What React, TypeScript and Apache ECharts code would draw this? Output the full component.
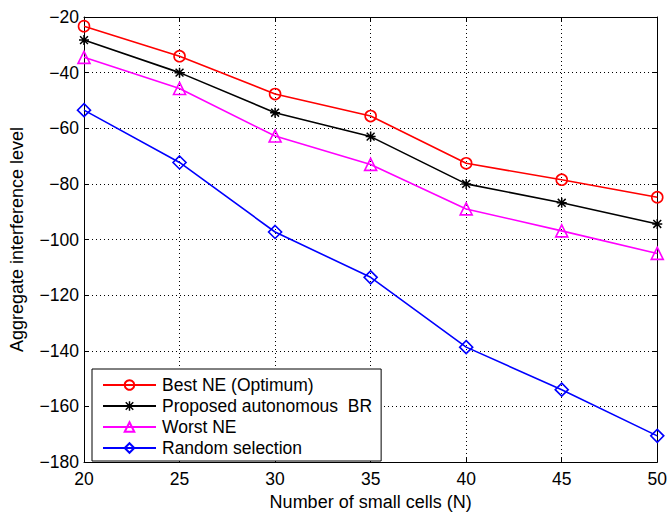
import React, { useEffect, useRef } from "react";
import * as echarts from "echarts";

const xValues = [20, 25, 30, 35, 40, 45, 50];
const bestNE = [-23.3, -34.1, -47.7, -55.6, -72.6, -78.5, -84.8];
const proposedBR = [-28.3, -40.0, -54.4, -63.0, -80.0, -86.8, -94.4];
const worstNE = [-34.5, -45.7, -62.8, -73.0, -89.0, -96.9, -105.0];
const randomSel = [-53.5, -72.3, -97.3, -113.6, -138.7, -154.0, -170.6];

const seriesNames = [
  "Best NE (Optimum)",
  "Proposed autonomous  BR",
  "Worst NE",
  "Random selection",
];

const xTitle = "Number of small cells (N)";
const yTitle = "Aggregate interference level";

const FONT = "'Liberation Sans', Arial, Helvetica, sans-serif";

const ASTERISK =
  "path://M8.5 0 L11.5 0 L11.5 20 L8.5 20 Z M0 8.5 L20 8.5 L20 11.5 L0 11.5 Z " +
  "M3.2 1.1 L18.9 16.8 L16.8 18.9 L1.1 3.2 Z M16.8 1.1 L18.9 3.2 L3.2 18.9 L1.1 16.8 Z";

export default function App() {
  const ref = useRef<HTMLDivElement>(null);

  useEffect(() => {
    document.body.style.margin = "0";
    if (!ref.current) return;
    const chart = echarts.init(ref.current, null, { renderer: "svg" });

    const mk = (arr: number[]) => arr.map((v, i) => [xValues[i], v]);
    const minus = (v: number) => String(v).replace("-", "\u2212");

    const gridLine = { show: true, lineStyle: { color: "#000", type: [1, 3], width: 1 } };

    const lineSeries = (
      name: string,
      data: number[],
      color: string,
      symbol: string,
      size: number,
      filled: boolean
    ) => ({
      name,
      type: "line",
      data: mk(data),
      symbol,
      symbolSize: size,
      showAllSymbol: true,
      lineStyle: { color, width: 1.6 },
      itemStyle: filled
        ? { color, borderWidth: 0 }
        : { color: "rgba(0,0,0,0)", borderColor: color, borderWidth: 1.6 },
      emphasis: { disabled: true },
      z: 3,
    });

    chart.setOption({
      animation: false,
      backgroundColor: "#fff",
      textStyle: { fontFamily: FONT },
      grid: { left: 83, right: 11, top: 17, bottom: 44, containLabel: false },
      xAxis: [
        {
          type: "value",
          min: 20,
          max: 50,
          interval: 5,
          name: xTitle,
          nameLocation: "middle",
          nameGap: 31,
          nameTextStyle: { fontSize: 18, color: "#000", fontFamily: FONT },
          axisLine: { show: true, lineStyle: { color: "#000", width: 1 } },
          axisTick: { show: true, inside: true, length: 5, lineStyle: { color: "#000" } },
          axisLabel: { fontSize: 17.5, color: "#000", margin: 8, fontFamily: FONT },
          splitLine: gridLine,
        },
        {
          type: "value",
          position: "top",
          min: 20,
          max: 50,
          interval: 5,
          axisLine: { show: true, onZero: false, lineStyle: { color: "#000", width: 1 } },
          axisTick: { show: true, inside: true, length: 5, lineStyle: { color: "#000" } },
          axisLabel: { show: false },
          splitLine: { show: false },
        },
      ],
      yAxis: [
        {
          type: "value",
          min: -180,
          max: -20,
          interval: 20,
          name: yTitle,
          nameLocation: "middle",
          nameGap: 58,
          nameRotate: 90,
          nameTextStyle: { fontSize: 18, color: "#000", fontFamily: FONT },
          axisLine: { show: true, onZero: false, lineStyle: { color: "#000", width: 1 } },
          axisTick: { show: true, inside: true, length: 5, lineStyle: { color: "#000" } },
          axisLabel: {
            fontSize: 17.5,
            color: "#000",
            margin: 5,
            fontFamily: FONT,
            formatter: minus,
          },
          splitLine: gridLine,
        },
        {
          type: "value",
          position: "right",
          min: -180,
          max: -20,
          interval: 20,
          axisLine: { show: true, onZero: false, lineStyle: { color: "#000", width: 1 } },
          axisTick: { show: true, inside: true, length: 5, lineStyle: { color: "#000" } },
          axisLabel: { show: false },
          splitLine: { show: false },
        },
      ],
      legend: {
        show: true,
        orient: "vertical",
        left: 92,
        top: 369,
        data: seriesNames,
        itemWidth: 53,
        itemHeight: 12,
        itemGap: 3,
        padding: [7, 9, 4, 10],
        backgroundColor: "#fff",
        borderColor: "#000",
        borderWidth: 1,
        borderRadius: 0,
        selectedMode: false,
        textStyle: { fontSize: 17.5, color: "#000", fontFamily: FONT, padding: [0, 0, 0, 1] },
      },
      series: [
        lineSeries(seriesNames[0], bestNE, "#ff0000", "circle", 11, false),
        lineSeries(seriesNames[1], proposedBR, "#000000", ASTERISK, 10, true),
        lineSeries(seriesNames[2], worstNE, "#ff00ff", "triangle", 12, false),
        lineSeries(seriesNames[3], randomSel, "#0000ff", "diamond", 13, false),
      ],
    });

    return () => chart.dispose();
  }, []);

  return <div ref={ref} style={{ width: 670, height: 516 }} />;
}
